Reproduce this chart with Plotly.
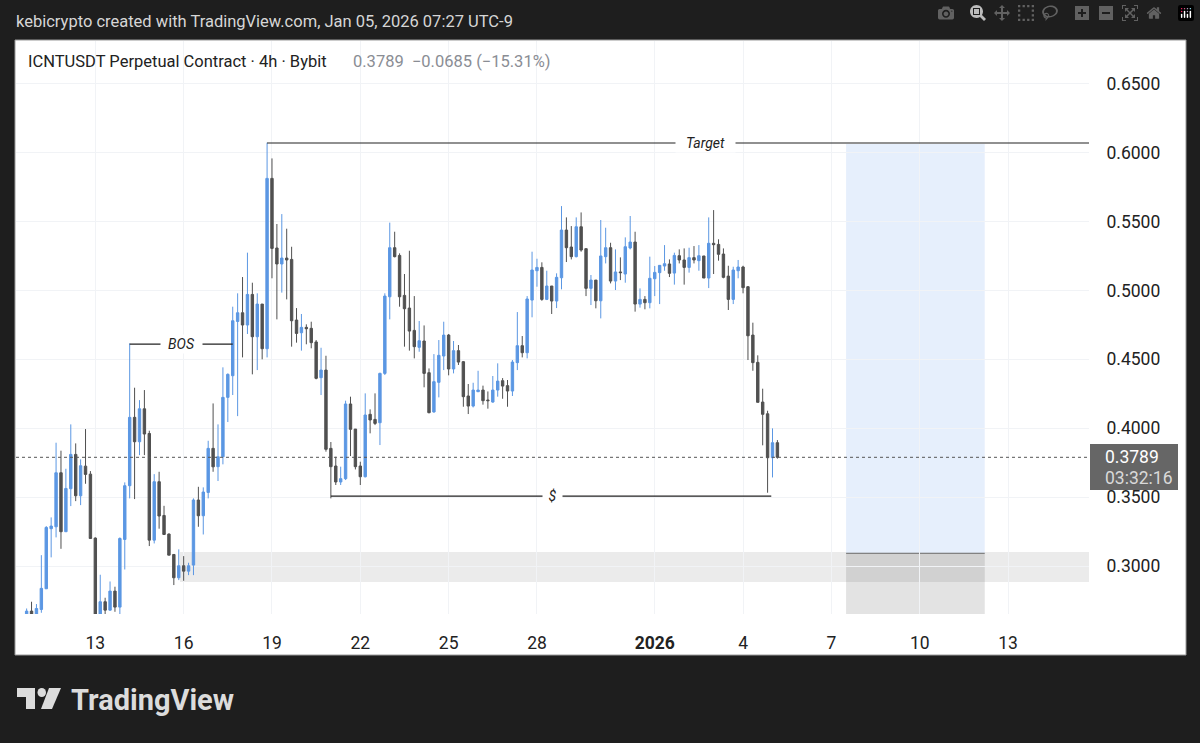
"""ICNTUSDT 4h candlestick chart in a TradingView snapshot layout."""

import pandas as pd
import plotly.graph_objects as go

WIDTH = 1200
HEIGHT = 743

opens = [
    .2644, .2673, .2644, .2685, .2835, .3271, .3285, .3677, .3249, .3561,
    .3810, .3510, .3725, .3667, .3203, .2644, .2741, .2680, .2818, .2702,
    .3193, .3583, .4079, .3902, .4141, .3962, .3188, .3612, .3367, .3232,
    .3084, .2915, .3002, .2963, .3007, .3479, .3365, .3534, .3854, .3721,
    .3793, .4224, .4381, .4775, .4838, .4749, .4971, .4664, .4901, .4577,
    .5813, .5308, .5192, .5235, .5225, .4785, .4693, .4732, .4725, .4626,
    .4367, .4422, .3854, .3726, .3610, .3634, .4176, .3994, .3726, .3648,
    .4101, .4064, .4040, .4398, .4954, .5310, .5254, .4964, .4872, .4710,
    .4587, .4633, .4403, .4118, .4333, .4524, .4676, .4430, .4563, .4483,
    .4234, .4161, .4265, .4277, .4205, .4190, .4277, .4345, .4309, .4270,
    .4476, .4599, .4548, .4930, .5143, .5167, .4935, .5032, .4923, .5092,
    .5438, .5315, .5245, .5462, .5303, .5015, .5075, .4925, .5245, .5310,
    .5068, .5134, .5119, .5308, .5351, .4901, .4935, .4911, .5085, .5129,
    .5177, .5192, .5126, .5252, .5221, .5167, .5238, .5216, .5250, .5090,
    .5342, .5334, .5264, .5104, .4935, .5143, .5170, .5027, .4676, .4478,
    .4190, .4105, .3786, .3895,
]
highs = [
    .2692, .2741, .2724, .3079, .3290, .3353, .3895, .3837, .3706, .4028,
    .3890, .3774, .3994, .3689, .3208, .2937, .2770, .2888, .2850, .3208,
    .3607, .4616, .4294, .4204, .4277, .3982, .3667, .3684, .3437, .3237,
    .3087, .3121, .3072, .3024, .3491, .3575, .3571, .3909, .4180, .4028,
    .4442, .4398, .4882, .4979, .5097, .5274, .5056, .4979, .4901, .6072,
    .5958, .5482, .5554, .5448, .5317, .4872, .4829, .4754, .4773, .4640,
    .4584, .4526, .3900, .3793, .3721, .4200, .4229, .3994, .3757, .4253,
    .4137, .4253, .4403, .4979, .5492, .5426, .5269, .5119, .5288, .4959,
    .4778, .4746, .4434, .4538, .4640, .4773, .4684, .4633, .4604, .4488,
    .4321, .4330, .4417, .4309, .4267, .4379, .4471, .4364, .4350, .4495,
    .4843, .4669, .4959, .5281, .5230, .5204, .5143, .5032, .5124, .5612,
    .5530, .5467, .5530, .5566, .5303, .5112, .5075, .5511, .5455, .5346,
    .5298, .5240, .5385, .5540, .5426, .5015, .4959, .5245, .5177, .5184,
    .5329, .5225, .5274, .5298, .5305, .5310, .5322, .5329, .5250, .5530,
    .5583, .5371, .5305, .5179, .5172, .5221, .5179, .5032, .4766, .4529,
    .4287, .4127, .3999, .3914,
]
lows = [
    .2644, .2644, .2644, .2661, .2835, .3063, .3208, .3125, .3249, .3435,
    .3471, .3442, .3597, .3198, .2644, .2644, .2644, .2676, .2668, .2644,
    .2975, .3491, .3486, .3805, .3805, .3145, .3164, .3271, .3225, .3079,
    .2862, .2898, .2893, .2934, .2934, .3285, .3229, .3491, .3684, .3617,
    .3738, .4045, .4241, .4088, .4514, .4684, .4391, .4422, .4500, .4514,
    .5088, .4790, .4984, .4935, .4592, .4621, .4563, .4609, .4580, .4355,
    .4241, .3830, .3491, .3588, .3588, .3624, .3798, .3701, .3588, .3643,
    .3963, .4023, .3878, .4386, .4790, .5240, .4882, .4592, .4563, .4507,
    .4555, .4297, .4108, .4113, .4224, .4422, .4384, .4398, .4459, .4156,
    .4103, .4151, .4265, .4171, .4142, .4185, .4229, .4214, .4156, .4234,
    .4422, .4514, .4507, .4805, .5027, .4925, .4930, .4829, .4872, .5008,
    .5206, .5225, .5240, .5281, .4959, .4894, .4870, .4797, .5196, .5051,
    .5003, .5075, .5056, .5298, .4846, .4875, .4863, .4870, .4959, .4901,
    .5143, .5097, .5042, .5196, .5042, .5129, .5196, .5143, .5090, .5017,
    .5119, .5216, .5088, .4858, .4901, .5088, .4979, .4495, .4417, .4188,
    .3876, .3532, .3643, .3779,
]
closes = [
    .2673, .2644, .2692, .2838, .3280, .3290, .3677, .3249, .3563, .3810,
    .3510, .3728, .3665, .3200, .2644, .2741, .2680, .2818, .2702, .3200,
    .3583, .4079, .3902, .4141, .3958, .3188, .3612, .3363, .3229, .3079,
    .2915, .3002, .2963, .3002, .3479, .3365, .3537, .3854, .3720, .3793,
    .4224, .4391, .4780, .4838, .4749, .4971, .4664, .4901, .4577, .5813,
    .5305, .5192, .5235, .5221, .4780, .4688, .4732, .4722, .4621, .4362,
    .4422, .3847, .3721, .3610, .3634, .4176, .3992, .3721, .3648, .4096,
    .4060, .4035, .4398, .4959, .5310, .5245, .4954, .4867, .4705, .4592,
    .4635, .4398, .4113, .4338, .4529, .4676, .4430, .4563, .4480, .4229,
    .4161, .4277, .4277, .4200, .4200, .4277, .4342, .4306, .4270, .4480,
    .4599, .4548, .4938, .5148, .5167, .4935, .5032, .4923, .5095, .5438,
    .5310, .5245, .5462, .5293, .5015, .5075, .4925, .5250, .5310, .5068,
    .5134, .5129, .5317, .5351, .4901, .4935, .4911, .5088, .5131, .5182,
    .5194, .5124, .5254, .5221, .5167, .5238, .5221, .5252, .5090, .5342,
    .5332, .5262, .5095, .4935, .5148, .5170, .5020, .4671, .4476, .4188,
    .4101, .3786, .3895, .3789,
]

first_candle = "2025-12-10 16:00"
x_range = ["2025-12-10 07:20", "2026-01-15 18:00"]
y_range = [0.2652, 0.6810]

date_ticks = [
    "2025-12-13", "2025-12-16", "2025-12-19", "2025-12-22", "2025-12-25", "2025-12-28",
    "2026-01-01", "2026-01-04", "2026-01-07", "2026-01-10", "2026-01-13",
]
date_labels = ["13", "16", "19", "22", "25", "28", "<b>2026</b>", "4", "7", "10", "13"]
price_ticks = [0.30, 0.35, 0.40, 0.45, 0.50, 0.55, 0.60, 0.65]

last_price = 0.3789
target_price = 0.6070
bos_price = 0.4611
sweep_price = 0.3508

box_start, box_end = "2026-01-07 12:00", "2026-01-12 05:00"
box_split = 0.3092
box_top = 0.6062
zone_start = "2025-12-15 21:00"
zone_top, zone_bottom = 0.3102, 0.2884

UP = "#5b97e3"
DOWN = "#505050"
GRID = "#f1f3f6"
DARK_BG = "#1e1e1e"
FONT = "Roboto"

dates = pd.date_range(first_candle, periods=len(closes), freq="4h")


def px(x):
    return x / WIDTH


def py(y):
    return 1 - y / HEIGHT


def label(text, x, y, size=17, color="#222222", anchor="left", yanchor="middle"):
    return dict(
        text=text, x=px(x), y=py(y), xref="paper", yref="paper", showarrow=False,
        xanchor=anchor, yanchor=yanchor, font=dict(family=FONT, size=size, color=color),
    )


def line_label(text, x, y, gap):
    return dict(
        text=f"<i>{text}</i>", x=x, y=y, showarrow=False, width=gap, align="center",
        bgcolor="white", font=dict(family=FONT, size=14, color="#222222"),
    )


def level(x0, x1, y):
    return dict(type="line", x0=x0, x1=x1, y0=y, y1=y, line=dict(color="#222222", width=1.2))


def logo_path(points):
    return "M" + " L".join(f"{px(a)},{py(b)}" for a, b in points) + " Z"


fig = go.Figure(go.Candlestick(
    x=dates, open=opens, high=highs, low=lows, close=closes,
    increasing=dict(line=dict(color=UP, width=1), fillcolor=UP),
    decreasing=dict(line=dict(color=DOWN, width=1), fillcolor=DOWN),
    whiskerwidth=0,
))

shapes = [
    # white chart card on the dark page
    dict(type="rect", xref="paper", yref="paper", layer="below", x0=px(15), x1=px(1186),
         y0=py(655), y1=py(40), fillcolor="white", line=dict(color="#9a9a9a", width=1)),
    # blue projection box and grey box under it
    dict(type="rect", layer="below", x0=box_start, x1=box_end, y0=box_split, y1=box_top,
         fillcolor="#e6effc", line_width=0),
    dict(type="rect", layer="below", x0=box_start, x1=box_end, y0=y_range[0], y1=box_split,
         fillcolor="#e3e3e3", line_width=0),
    dict(type="line", layer="below", x0=box_start, x1=box_end, y0=box_split, y1=box_split,
         line=dict(color="#808080", width=1)),
    # demand zone
    dict(type="rect", layer="below", x0=zone_start, x1=x_range[1], y0=zone_bottom, y1=zone_top,
         fillcolor="rgba(0,0,0,0.08)", line_width=0),
    # last price
    dict(type="line", x0=x_range[0], x1=x_range[1], y0=last_price, y1=last_price,
         line=dict(color="#555555", width=1, dash="dot")),
    level(dates[49], x_range[1], target_price),
    level(dates[21], dates[42], bos_price),
    level(dates[62], dates[151] + pd.Timedelta(hours=3), sweep_price),
    # price tag
    dict(type="rect", xref="paper", yref="paper", x0=px(1090), x1=px(1178), y0=py(490), y1=py(444),
         fillcolor="#666666", line_width=0),
    # logo
    dict(type="path", xref="paper", yref="paper", line_width=0, fillcolor="#dcdcdc",
         path=logo_path([(17, 688), (35, 688), (35, 709), (26, 709), (26, 697), (17, 697)])),
    dict(type="path", xref="paper", yref="paper", line_width=0, fillcolor="#dcdcdc",
         path=logo_path([(49, 688), (61, 688), (52, 709), (41, 709)])),
    dict(type="circle", xref="paper", yref="paper", line_width=0, fillcolor="#dcdcdc",
         x0=px(37.5), x1=px(46), y0=py(697), y1=py(688)),
]

annotations = [
    label("kebicrypto created with TradingView.com, Jan 05, 2026 07:27 UTC-9", 14, 21, 16.5, "#d6d6d6"),
    label("ICNTUSDT Perpetual Contract · 4h · Bybit", 26, 61.5, 16.5, "#222222"),
    label("0.3789  −0.0685 (−15.31%)", 351, 61.5, 16.5, "#8a8d94"),
    label("0.3789", 1103, 457, 17.5, "#ffffff"),
    label("03:32:16", 1103, 478, 17.5, "#d9d9d9"),
    label("<b>TradingView</b>", 69, 699.5, 29, "#dcdcdc"),
    line_label("Target", "2026-01-02 17:00", target_price, 57),
    line_label("BOS", "2025-12-15 21:50", bos_price, 39),
    line_label("$", "2025-12-28 12:20", sweep_price, 17),
]

fig.update_layout(
    width=WIDTH, height=HEIGHT, autosize=False,
    margin=dict(l=0, r=0, t=0, b=0),
    paper_bgcolor=DARK_BG, plot_bgcolor="white",
    showlegend=False, shapes=shapes, annotations=annotations,
    xaxis=dict(
        domain=[px(16), px(1089)], range=x_range, rangeslider_visible=False,
        tickvals=date_ticks, ticktext=date_labels, tickangle=0,
        ticks="outside", ticklen=13, tickcolor="rgba(0,0,0,0)",
        tickfont=dict(family=FONT, size=17.5, color="#222222"),
        gridcolor=GRID, gridwidth=1, showline=False, zeroline=False,
    ),
    yaxis=dict(
        domain=[py(614), py(41)], range=y_range, side="right",
        tickvals=price_ticks, tickformat=".4f",
        ticks="outside", ticklen=13, tickcolor="rgba(0,0,0,0)",
        tickfont=dict(family=FONT, size=17.5, color="#222222"),
        gridcolor=GRID, gridwidth=1, showline=False, zeroline=False,
    ),
)

fig.write_html("out.html", post_script="document.body.style.margin='0';")
